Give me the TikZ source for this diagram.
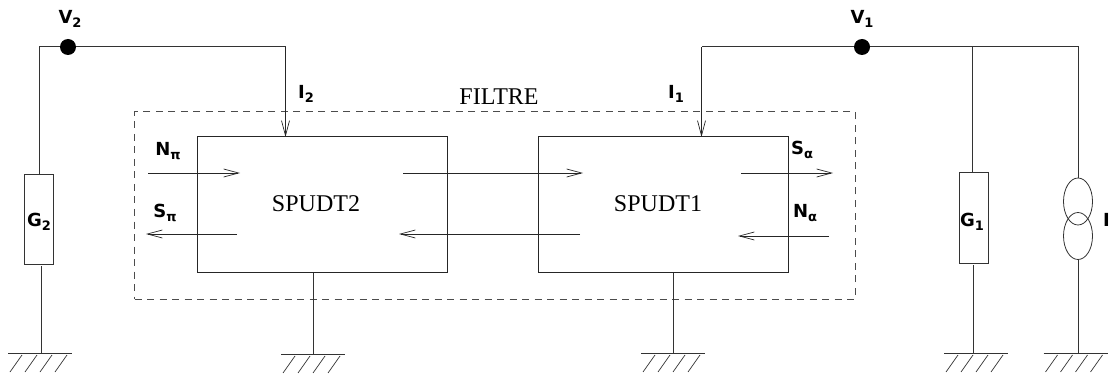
\documentclass[tikz,border=0pt]{standalone}
\usepackage{fontspec}
\setmainfont{Liberation Serif}
\newfontfamily\labfont{DejaVu Sans Bold}
\usetikzlibrary{arrows.meta,calc,shapes.geometric}
\newcommand{\lab}[2]{{\labfont\fontsize{18}{18}\selectfont #1\raisebox{-4pt}{\fontsize{13}{13}\selectfont #2}}}
\tikzset{
  x=1pt,y=-1pt,
  wire/.style={line width=1pt,draw=black!80},
  sig/.style={line width=0.8pt,draw=black!85,-{Straight Barb[length=15pt,width=8pt,line width=0.7pt]}},
  boxx/.style={draw=black!85,line width=1pt,minimum width=250pt,minimum height=135pt,inner sep=0pt},
  res/.style={draw=black!80,line width=1pt,minimum width=29pt,minimum height=90pt,inner sep=0pt},
  filt/.style={draw=black!70,line width=1pt,dash pattern=on 7pt off 5.5pt,minimum width=720.5pt,minimum height=187pt,inner sep=0pt},
  dot/.style={circle,fill=black,minimum size=16pt,inner sep=0pt},
  txt/.style={inner sep=0pt},
  bigtxt/.style={inner sep=0pt,font=\fontsize{24}{24}\selectfont},
  src/.style={ellipse,draw=black!80,line width=0.8pt,minimum width=29pt,minimum height=47pt,inner sep=0pt},
  gnd/.pic={
    \draw[line width=0.9pt,draw=black!80] (-32,0) -- (32,0);
    \foreach \k in {-30,-15,0,15}{\draw[line width=0.7pt,draw=black!80] (\k,19) -- ++(12,-17);}
  }
}
\begin{document}
\begin{tikzpicture}
\useasboundingbox (0,0) rectangle (1113,374);
\node[filt] (filtre) at (494.75,205.5) {};
\node[boxx] (sp2) at (322.5,204.5) {};
\node[boxx] (sp1) at (663,204.5) {};
\node[bigtxt] (t2) at (316,204) {SPUDT2};
\node[bigtxt] (t1) at (658,204) {SPUDT1};
\node[bigtxt] (tf) at (499,97) {FILTRE};
\node[res] (g2) at (39,219.7) {};
\node[res] (g1) at (973.5,218) {};
\node[src] (s1) at (1078,201.5) {};
\node[src] (s2) at (1078,236) {};
\node[dot] (v2) at (68,47) {};
\node[dot] (v1) at (862,47) {};
\coordinate (a2) at (285.5,137);
\coordinate (a1) at (701.5,137);
\coordinate (g2t) at (39,47);
\coordinate (c2) at (285.5,47);
\coordinate (c1) at (701.5,47);
\coordinate (b1) at (972,47);
\coordinate (b2) at (1078,47);
\coordinate (gA) at (41,353);
\coordinate (gB) at (313,354);
\coordinate (gC) at (673,353);
\coordinate (gD) at (976,353);
\coordinate (gE) at (1075.5,353);
\draw[wire] (v2) -- (g2t) -- (g2.north -| g2t);
\draw[wire] (v2) -- (c2);
\draw[sig] (c2) -- (a2);
\draw[wire] (v1) -- (c1);
\draw[sig] (c1) -- (a1);
\draw[wire] (v1) -- (b2) -- (s1.north);
\draw[wire] (b1) -- (972,173);
\draw[wire] (41,266) -- (gA);
\draw[wire] (973.5,265) -- (973.5,353);
\draw[wire] (s2.south) -- (1078,353);
\draw[wire] (sp2.south -| gB) -- (gB);
\draw[wire] (sp1.south -| gC) -- (gC);
\pic at (40,353) {gnd};
\pic at (gB) {gnd};
\pic at (gC) {gnd};
\pic at (gD) {gnd};
\pic at (gE) {gnd};
\draw[sig] (148,173) -- (240,173);
\draw[sig] (237,234) -- (146,234);
\draw[sig] (403,173) -- (583,173);
\draw[sig] (580,234) -- (399,234);
\draw[sig] (741,173) -- (833,173);
\draw[sig] (829,236) -- (738,236);
\node[txt] (lv2) at (70,19) {\lab{V}{2}};
\node[txt] (lv1) at (862,19) {\lab{V}{1}};
\node[txt] (li2) at (306,94) {\lab{I}{2}};
\node[txt] (li1) at (676,94) {\lab{I}{1}};
\node[txt] (lg2) at (39,222) {\lab{G}{2}};
\node[txt] (lg1) at (972,222) {\lab{G}{1}};
\node[txt,anchor=west] (li0) at (1103,222) {\lab{I}{}};
\node[txt] (ne) at (168,151) {\lab{N}{π}};
\node[txt] (se) at (165,213) {\lab{S}{π}};
\node[txt] (ss) at (802,150) {\lab{S}{α}};
\node[txt] (ns) at (805,213) {\lab{N}{α}};
\end{tikzpicture}
\end{document}
